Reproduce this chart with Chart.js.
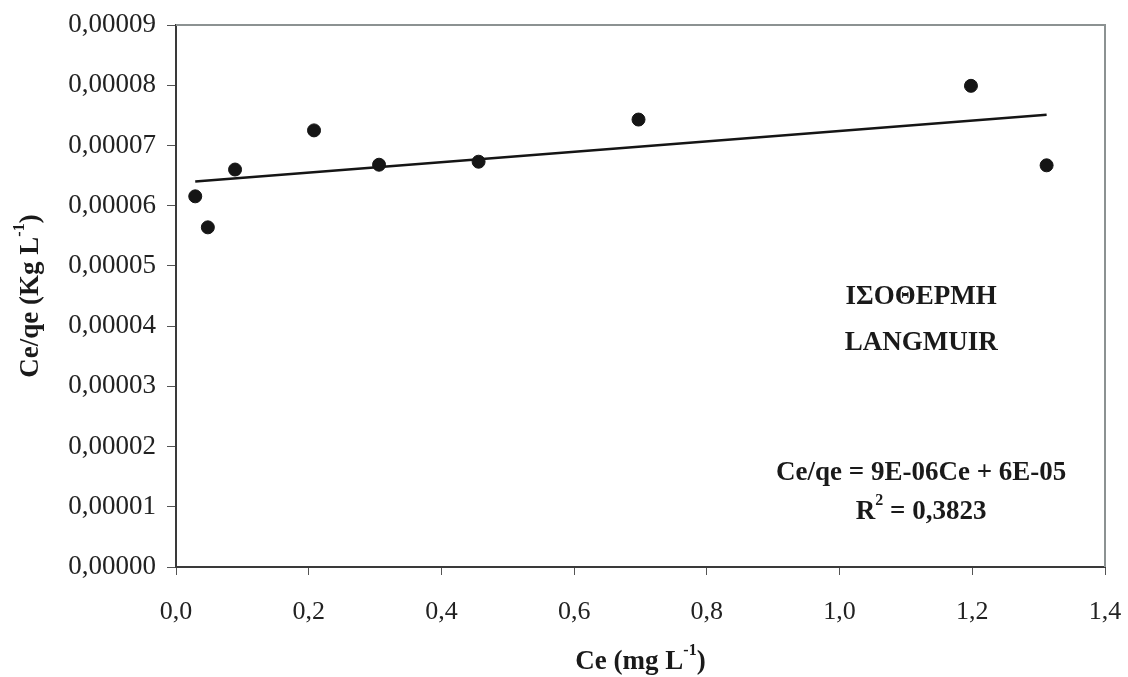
<!DOCTYPE html>
<html>
<head>
<meta charset="utf-8">
<script src="https://cdn.jsdelivr.net/npm/chart.js@4/dist/chart.umd.min.js"></script>
<style>
html,body{margin:0;padding:0;background:#fff;}
#wrap{width:1128px;height:677px;}
</style>
</head>
<body>
<div id="wrap"><canvas id="c" width="1128" height="677"></canvas></div>
<script>
// Data
const ceValues = [0.029, 0.048, 0.089, 0.208, 0.306, 0.456, 0.697, 1.198, 1.312];
const ceqeValues = [6.155e-5, 5.64e-5, 6.60e-5, 7.25e-5, 6.68e-5, 6.73e-5, 7.43e-5, 7.99e-5, 6.67e-5];
const trendX = [0.029, 1.312];
const trendY = [6.40e-5, 7.51e-5];
const xTicks = [0, 0.2, 0.4, 0.6, 0.8, 1.0, 1.2, 1.4];
const yTicks = [0, 1e-5, 2e-5, 3e-5, 4e-5, 5e-5, 6e-5, 7e-5, 8e-5, 9e-5];
const labelTitle = ["ΙΣΟΘΕΡΜΗ", "LANGMUIR"];
const equationText = "Ce/qe = 9E-06Ce + 6E-05";
const r2Text = "0,3823";

const SERIF = "'Liberation Serif', 'Times New Roman', serif";
const BIG = 27, SUP = 16;

const points = ceValues.map((x, i) => ({x: x, y: ceqeValues[i]}));
const trend = trendX.map((x, i) => ({x: x, y: trendY[i]}));

function supText(ctx, parts, cx, cy) {
  const bold = (s) => 'bold ' + s + 'px ' + SERIF;
  let total = 0;
  const widths = parts.map(p => { ctx.font = bold(p[1] ? SUP : BIG); const w = ctx.measureText(p[0]).width; total += w; return w; });
  let x = cx - total / 2;
  ctx.textAlign = 'left';
  parts.forEach((p, i) => {
    ctx.font = bold(p[1] ? SUP : BIG);
    ctx.fillText(p[0], x, p[1] ? cy - 11 : cy);
    x += widths[i];
  });
}

const annot = {
  id: 'annot',
  beforeDatasetsDraw(chart) {
    const a = chart.chartArea, ctx = chart.ctx;
    ctx.save();
    ctx.strokeStyle = '#8c9292';
    ctx.lineWidth = 2;
    ctx.beginPath();
    ctx.moveTo(a.left, a.top);
    ctx.lineTo(a.right, a.top);
    ctx.lineTo(a.right, a.bottom);
    ctx.stroke();
    ctx.restore();
  },
  afterDraw(chart) {
    const ctx = chart.ctx;
    const xs = chart.scales.x, ys = chart.scales.y;
    ctx.save();
    ctx.fillStyle = '#1a1a1a';
    ctx.textBaseline = 'middle';
    const gx = xs.getPixelForValue(1.123);
    ctx.font = 'bold ' + BIG + 'px ' + SERIF;
    ctx.textAlign = 'center';
    ctx.fillText(labelTitle[0], gx, ys.getPixelForValue(4.48e-5));
    ctx.fillText(labelTitle[1], gx, ys.getPixelForValue(3.72e-5));
    ctx.fillText(equationText, gx, ys.getPixelForValue(1.56e-5));
    supText(ctx, [['R', false], ['2', true], [' = ' + r2Text, false]], gx, ys.getPixelForValue(0.91e-5));

    // X axis title
    const tx = (chart.chartArea.left + chart.chartArea.right) / 2;
    supText(ctx, [['Ce (mg L', false], ['-1', true], [')', false]], tx, 662);

    // Y axis title
    ctx.translate(31, (chart.chartArea.top + chart.chartArea.bottom) / 2);
    ctx.rotate(-Math.PI / 2);
    supText(ctx, [['Ce/qe (Kg L', false], ['-1', true], [')', false]], 0, 0);
    ctx.restore();
  }
};

new Chart(document.getElementById('c'), {
  type: 'scatter',
  data: {
    datasets: [
      {
        label: 'Ce/qe',
        data: points,
        pointRadius: 6.5,
        pointHoverRadius: 6.5,
        pointBackgroundColor: '#151515',
        pointBorderColor: '#151515',
        showLine: false,
        order: 1
      },
      {
        label: 'Trend',
        data: trend,
        showLine: true,
        borderColor: '#151515',
        borderWidth: 2.5,
        pointRadius: 0,
        fill: false,
        order: 2
      }
    ]
  },
  options: {
    responsive: false,
    animation: false,
    devicePixelRatio: 1,
    layout: {padding: {left: 0, right: 23, top: 25, bottom: 0}},
    plugins: {legend: {display: false}, tooltip: {enabled: false}},
    scales: {
      x: {
        type: 'linear',
        min: 0, max: 1.4,
        afterBuildTicks(s) { s.ticks = xTicks.map(v => ({value: v})); },
        afterFit(s) { s.height = 110; s.paddingLeft = 0; s.paddingRight = 0; },
        grid: {drawOnChartArea: false, drawTicks: true, tickLength: 8, color: '#555', lineWidth: 1},
        border: {display: true, color: '#3a3a3a', width: 2},
        ticks: {
          color: '#222',
          padding: 22,
          maxRotation: 0,
          autoSkip: false,
          font: {family: SERIF, size: 26},
          callback: (v) => Number(v).toFixed(1).replace('.', ',')
        }
      },
      y: {
        type: 'linear',
        min: 0, max: 9e-5,
        afterBuildTicks(s) { s.ticks = yTicks.map(v => ({value: v})); },
        afterFit(s) { s.width = 176; s.paddingTop = 0; s.paddingBottom = 0; },
        grid: {drawOnChartArea: false, drawTicks: true, tickLength: 9, color: '#555', lineWidth: 1},
        border: {display: true, color: '#3a3a3a', width: 2},
        ticks: {
          color: '#222',
          padding: 11,
          autoSkip: false,
          font: {family: SERIF, size: 27},
          callback: (v) => Number(v).toFixed(5).replace('.', ',')
        }
      }
    }
  },
  plugins: [annot]
});
</script>
</body>
</html>
